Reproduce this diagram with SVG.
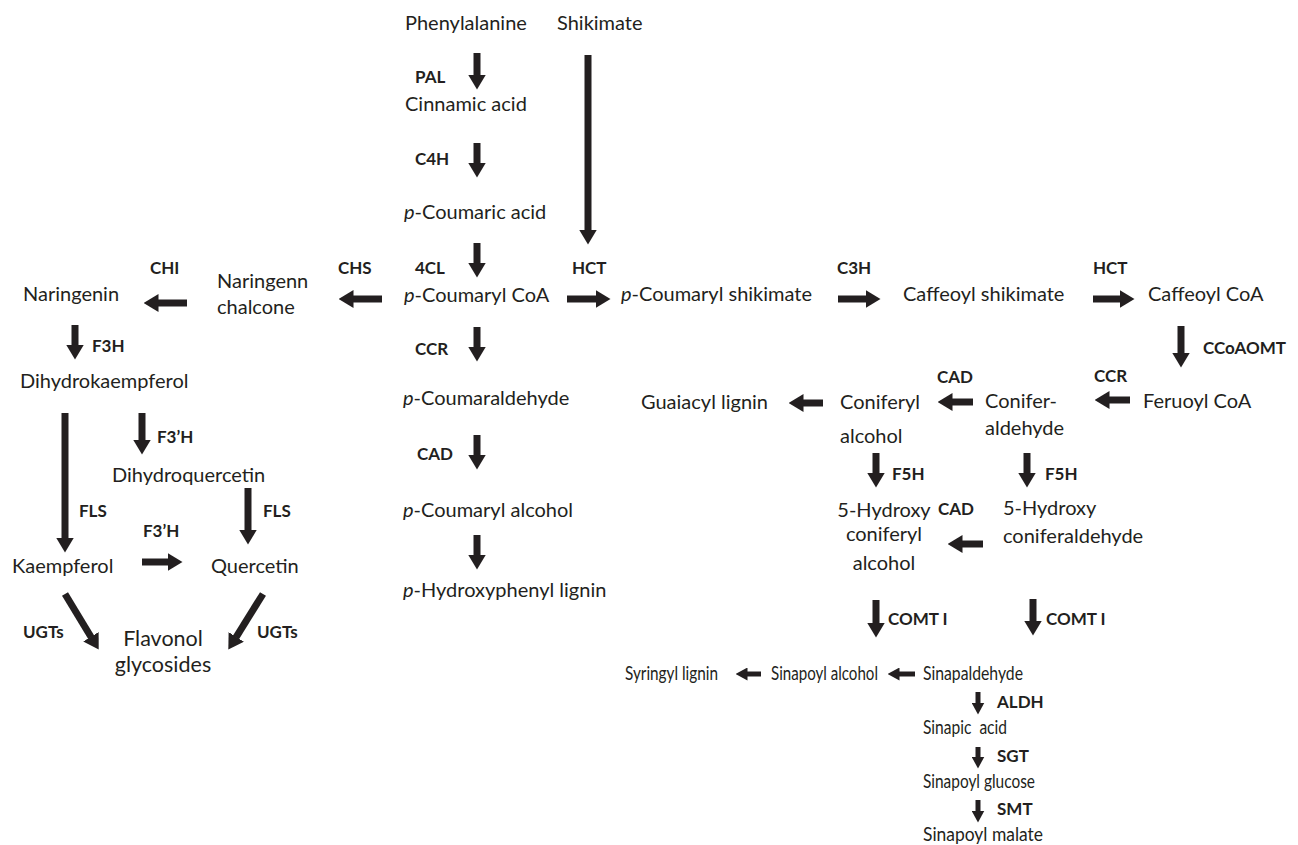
<svg xmlns="http://www.w3.org/2000/svg" width="1298" height="845" viewBox="0 0 1298 845">
<style>
text{font-family:Lato,"Open Sans","Liberation Sans",sans-serif;fill:#231f20}
.t{font-size:20px}
.f{font-size:21.5px}
.b{font-size:17px;font-weight:bold}
.n{font-size:18.5px}
.m{text-anchor:middle}
.i{font-style:italic}
.a{stroke:#231f20;stroke-width:7;fill:none;marker-end:url(#h)}
.s{stroke:#231f20;stroke-width:5;fill:none;marker-end:url(#hs)}
</style>
<defs>
<marker id="h" viewBox="0 0 15 18" markerWidth="15" markerHeight="18" refX="0.5" refY="9" orient="auto" markerUnits="userSpaceOnUse"><path d="M0,0 L15,9 L0,18 z" fill="#231f20"/></marker>
<marker id="hs" viewBox="0 0 12 13" markerWidth="12" markerHeight="13" refX="0.5" refY="6.5" orient="auto" markerUnits="userSpaceOnUse"><path d="M0,0 L12,6.5 L0,13 z" fill="#231f20"/></marker>
</defs>
<rect width="1298" height="845" fill="#fff"/>
<g id="connectors">
<line class="a" x1="477" y1="53" x2="477" y2="75"/>
<line class="a" x1="477" y1="143" x2="477" y2="163"/>
<line class="a" x1="477" y1="243" x2="477" y2="263"/>
<line class="a" x1="477" y1="327" x2="477" y2="347"/>
<line class="a" x1="477" y1="435" x2="477" y2="455"/>
<line class="a" x1="477" y1="535" x2="477" y2="555"/>
<line class="a" x1="588" y1="55" x2="588" y2="230"/>
<line class="a" x1="75" y1="325" x2="75" y2="345"/>
<line class="a" x1="65" y1="413" x2="65" y2="538"/>
<line class="a" x1="142" y1="413" x2="142" y2="440"/>
<line class="a" x1="248" y1="488" x2="248" y2="530"/>
<line class="a" x1="1181" y1="326" x2="1181" y2="353"/>
<line class="a" x1="876" y1="453" x2="876" y2="473"/>
<line class="a" x1="1027" y1="453" x2="1027" y2="473"/>
<line class="a" x1="876" y1="600" x2="876" y2="623"/>
<line class="a" x1="1033" y1="599" x2="1033" y2="621"/>
<line class="a" x1="187" y1="303" x2="158" y2="303"/>
<line class="a" x1="382" y1="299" x2="353" y2="299"/>
<line class="a" x1="567" y1="299" x2="596" y2="299"/>
<line class="a" x1="838" y1="299" x2="866" y2="299"/>
<line class="a" x1="1093" y1="299" x2="1120" y2="299"/>
<line class="a" x1="1130" y1="400" x2="1109" y2="400"/>
<line class="a" x1="973" y1="402" x2="952" y2="402"/>
<line class="a" x1="823" y1="403" x2="803" y2="403"/>
<line class="a" x1="983" y1="544" x2="962" y2="544"/>
<line class="a" x1="142" y1="562" x2="168" y2="562"/>
<line class="a" x1="65" y1="594" x2="91.2" y2="637.2"/>
<line class="a" x1="263" y1="594" x2="236" y2="637.3"/>
<line class="s" x1="761" y1="674" x2="747" y2="674"/>
<line class="s" x1="915" y1="674" x2="899" y2="674"/>
<line class="s" x1="978" y1="692" x2="978" y2="703"/>
<line class="s" x1="978" y1="747" x2="978" y2="757"/>
<line class="s" x1="978" y1="800" x2="978" y2="811"/>
</g>
<g id="phenylalanine"><text class="t" x="405" y="30">Phenylalanine</text></g>
<g id="shikimate"><text class="t" x="557" y="30">Shikimate</text></g>
<g id="cinnamic-acid"><text class="t" x="405" y="111">Cinnamic acid</text></g>
<g id="p-coumaric-acid"><text class="t" x="404" y="219"><tspan class="i">p</tspan>-Coumaric acid</text></g>
<g id="p-coumaryl-coa"><text class="t" x="404" y="302"><tspan class="i">p</tspan>-Coumaryl CoA</text></g>
<g id="p-coumaraldehyde"><text class="t" x="403" y="405"><tspan class="i">p</tspan>-Coumaraldehyde</text></g>
<g id="p-coumaryl-alcohol"><text class="t" x="403" y="517"><tspan class="i">p</tspan>-Coumaryl alcohol</text></g>
<g id="p-hydroxyphenyl-lignin"><text class="t" x="403" y="597"><tspan class="i">p</tspan>-Hydroxyphenyl lignin</text></g>
<g id="naringenin"><text class="t" x="23" y="301">Naringenin</text></g>
<g id="naringenin-chalcone"><text class="t" x="217" y="288">Naringenn</text><text class="t" x="217" y="314">chalcone</text></g>
<g id="dihydrokaempferol"><text class="t" x="20" y="388">Dihydrokaempferol</text></g>
<g id="dihydroquercetin"><text class="t" x="112" y="482">Dihydroquercetin</text></g>
<g id="kaempferol"><text class="t" x="12" y="573">Kaempferol</text></g>
<g id="quercetin"><text class="t" x="211" y="573">Quercetin</text></g>
<g id="flavonol-glycosides"><text class="f m" x="163" y="646">Flavonol</text><text class="f m" x="163" y="672">glycosides</text></g>
<g id="p-coumaryl-shikimate"><text class="t" x="621" y="301"><tspan class="i">p</tspan>-Coumaryl shikimate</text></g>
<g id="caffeoyl-shikimate"><text class="t" x="903" y="301">Caffeoyl shikimate</text></g>
<g id="caffeoyl-coa"><text class="t" x="1148" y="301">Caffeoyl CoA</text></g>
<g id="feruoyl-coa"><text class="t" x="1143" y="408">Feruoyl CoA</text></g>
<g id="coniferaldehyde"><text class="t" x="985" y="408">Conifer-</text><text class="t" x="985" y="435">aldehyde</text></g>
<g id="coniferyl-alcohol"><text class="t" x="840" y="409">Coniferyl</text><text class="t" x="840" y="443">alcohol</text></g>
<g id="guaiacyl-lignin"><text class="t" x="641" y="409">Guaiacyl lignin</text></g>
<g id="hydroxy-coniferyl-alcohol"><text class="t m" x="884" y="517">5-Hydroxy</text><text class="t m" x="884" y="541">coniferyl</text><text class="t m" x="884" y="570">alcohol</text></g>
<g id="hydroxy-coniferaldehyde"><text class="t" x="1003" y="515">5-Hydroxy</text><text class="t" x="1003" y="543">coniferaldehyde</text></g>
<g id="syringyl-lignin"><text class="n" x="625" y="680" textLength="93" lengthAdjust="spacingAndGlyphs">Syringyl lignin</text></g>
<g id="sinapoyl-alcohol"><text class="n" x="771" y="680" textLength="107" lengthAdjust="spacingAndGlyphs">Sinapoyl alcohol</text></g>
<g id="sinapaldehyde"><text class="n" x="923" y="680" textLength="100" lengthAdjust="spacingAndGlyphs">Sinapaldehyde</text></g>
<g id="sinapic-acid"><text class="n" x="923" y="734" xml:space="preserve" textLength="84" lengthAdjust="spacingAndGlyphs">Sinapic  acid</text></g>
<g id="sinapoyl-glucose"><text class="n" x="923" y="788" textLength="112" lengthAdjust="spacingAndGlyphs">Sinapoyl glucose</text></g>
<g id="sinapoyl-malate"><text class="n" x="923" y="841" textLength="120" lengthAdjust="spacingAndGlyphs">Sinapoyl malate</text></g>
<g id="enzyme-labels">
<text class="b" x="415" y="83">PAL</text>
<text class="b" x="415" y="165">C4H</text>
<text class="b" x="415" y="274">4CL</text>
<text class="b" x="572" y="274">HCT</text>
<text class="b" x="415" y="355">CCR</text>
<text class="b" x="417" y="460">CAD</text>
<text class="b" x="150" y="274">CHI</text>
<text class="b" x="338" y="274">CHS</text>
<text class="b" x="92" y="352">F3H</text>
<text class="b" x="837" y="274">C3H</text>
<text class="b" x="1093" y="274">HCT</text>
<text class="b" x="1203" y="354">CCoAOMT</text>
<text class="b" x="1094" y="382">CCR</text>
<text class="b" x="937" y="383">CAD</text>
<text class="b" x="892" y="480">F5H</text>
<text class="b" x="1045" y="480">F5H</text>
<text class="b" x="938" y="515">CAD</text>
<text class="b" x="888" y="625">COMT I</text>
<text class="b" x="1046" y="625">COMT I</text>
<text class="b" x="79" y="517">FLS</text>
<text class="b" x="157" y="443">F3’H</text>
<text class="b" x="263" y="517">FLS</text>
<text class="b" x="143" y="537">F3’H</text>
<text class="b" x="23" y="638">UGTs</text>
<text class="b" x="257" y="638">UGTs</text>
<text class="b" x="997" y="708">ALDH</text>
<text class="b" x="997" y="762">SGT</text>
<text class="b" x="997" y="815">SMT</text>
</g>
</svg>
